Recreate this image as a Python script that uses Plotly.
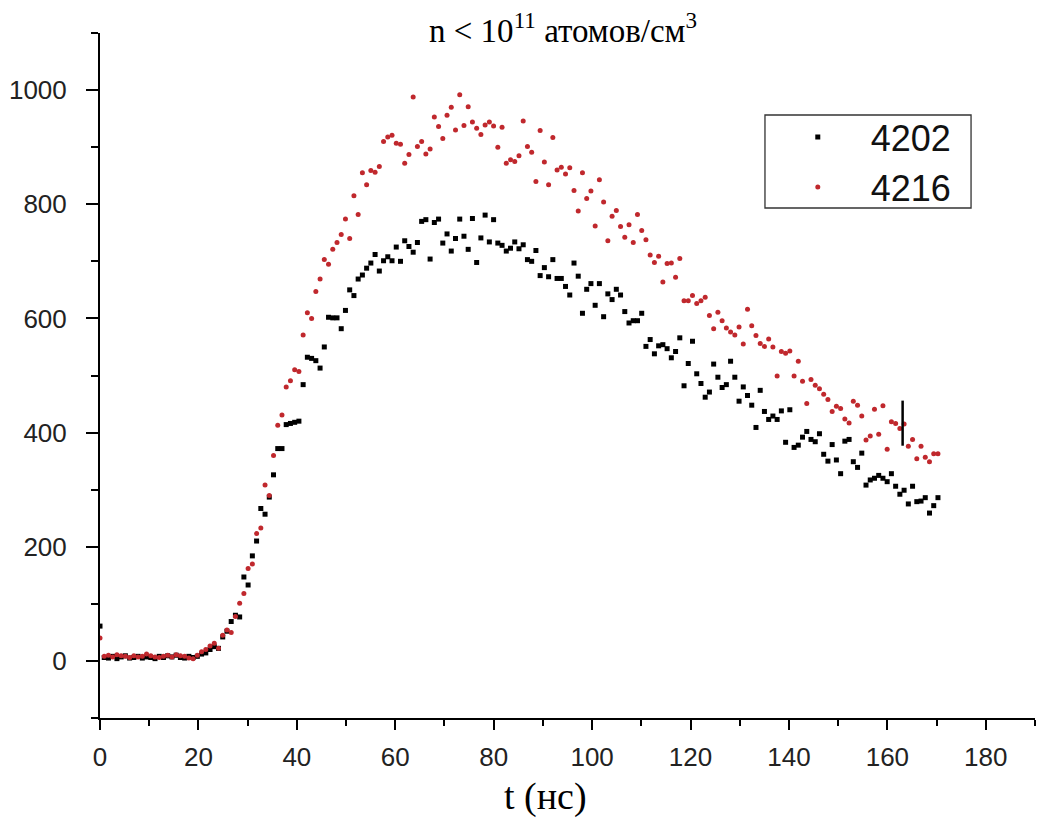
import plotly.graph_objects as go

# Sampling grid (ns) - shared time base of both records
time_ns = [0.0, 0.86, 1.72, 2.58, 3.44, 4.3, 5.16, 6.02, 6.88, 7.74, 8.6, 9.46, 10.32, 11.18, 12.04,
           12.9, 13.76, 14.62, 15.48, 16.34, 17.2, 18.06, 18.92, 19.78, 20.64, 21.5, 22.36, 23.22,
           24.08, 24.94, 25.8, 26.66, 27.52, 28.38, 29.24, 30.1, 30.96, 31.82, 32.68, 33.54, 34.4,
           35.26, 36.12, 36.98, 37.84, 38.7, 39.56, 40.42, 41.28, 42.14, 43.0, 43.86, 44.72, 45.58,
           46.44, 47.3, 48.16, 49.02, 49.88, 50.74, 51.6, 52.46, 53.32, 54.18, 55.04, 55.9, 56.76,
           57.62, 58.48, 59.34, 60.2, 61.06, 61.92, 62.78, 63.64, 64.5, 65.36, 66.22, 67.08, 67.94,
           68.8, 69.66, 70.52, 71.38, 72.24, 73.1, 73.96, 74.82, 75.68, 76.54, 77.4, 78.26, 79.12,
           79.98, 80.84, 81.7, 82.56, 83.42, 84.28, 85.14, 86.0, 86.86, 87.72, 88.58, 89.44, 90.3,
           91.16, 92.02, 92.88, 93.74, 94.6, 95.46, 96.32, 97.18, 98.04, 98.9, 99.76, 100.62, 101.48,
           102.34, 103.2, 104.06, 104.92, 105.78, 106.64, 107.5, 108.36, 109.22, 110.08, 110.94,
           111.8, 112.66, 113.52, 114.38, 115.24, 116.1, 116.96, 117.82, 118.68, 119.54, 120.4,
           121.26, 122.12, 122.98, 123.84, 124.7, 125.56, 126.42, 127.28, 128.14, 129.0, 129.86,
           130.72, 131.58, 132.44, 133.3, 134.16, 135.02, 135.88, 136.74, 137.6, 138.46, 139.32,
           140.18, 141.04, 141.9, 142.76, 143.62, 144.48, 145.34, 146.2, 147.06, 147.92, 148.78,
           149.64, 150.5, 151.36, 152.22, 153.08, 153.94, 154.8, 155.66, 156.52, 157.38, 158.24,
           159.1, 159.96, 160.82, 161.68, 162.54, 163.4, 164.26, 165.12, 165.98, 166.84, 167.7,
           168.56, 169.42, 170.28]

# Series 4202 (black squares)
s4202 = [61, 6, 5, 8, 4, 7, 9, 5, 6, 8, 5, 7, 6, 4, 8, 6, 9, 7, 10, 6, 5, 8, 6,
         8, 12, 14, 20, 25, 22, 42, 52, 69, 80, 77, 147, 133, 184, 210, 267, 257, 287,
         326, 372, 372, 414, 416, 418, 420, 484, 532, 530, 526, 513, 550, 602, 601, 601,
         582, 614, 650, 640, 669, 676, 688, 697, 712, 683, 701, 708, 701, 725, 700, 736,
         726, 716, 733, 770, 773, 704, 768, 774, 732, 748, 718, 740, 774, 744, 721, 775,
         698, 741, 781, 734, 773, 732, 728, 718, 723, 734, 722, 729, 703, 700, 719, 675,
         689, 673, 703, 670, 670, 656, 641, 697, 674, 609, 651, 661, 623, 661, 603, 643,
         633, 651, 641, 612, 592, 596, 596, 609, 551, 563, 538, 552, 554, 547, 531, 542,
         566, 482, 521, 560, 503, 486, 462, 471, 520, 497, 479, 484, 525, 497, 455, 480,
         465, 448, 409, 474, 437, 423, 429, 423, 438, 383, 440, 374, 378, 392, 402, 388,
         384, 398, 362, 350, 379, 352, 328, 385, 388, 349, 339, 364, 308, 317, 320, 325,
         320, 314, 328, 306, 292, 299, 275, 306, 279, 280, 286, 259, 272, 286]

# Series 4216 (red circles)
s4216 = [40, 8, 10, 7, 11, 9, 8, 6, 9, 7, 8, 12, 9, 7, 6, 8, 10, 7, 11, 9, 8, 5, 4,
         10, 16, 20, 26, 31, 22, 45, 54, 50, 78, 101, 118, 162, 170, 223, 233, 308, 290,
         360, 413, 431, 480, 491, 510, 507, 571, 610, 600, 647, 669, 703, 695, 721, 733,
         747, 774, 740, 815, 782, 855, 834, 859, 856, 866, 910, 918, 921, 907, 905, 872,
         887, 988, 901, 910, 888, 897, 953, 936, 915, 956, 970, 930, 992, 938, 971, 944,
         933, 922, 939, 944, 937, 900, 935, 872, 878, 875, 885, 946, 901, 891, 840, 929,
         874, 834, 917, 860, 865, 853, 864, 824, 788, 855, 810, 823, 762, 843, 804, 736,
         779, 789, 761, 742, 764, 733, 782, 754, 738, 711, 698, 709, 664, 696, 697, 672,
         705, 631, 631, 640, 626, 631, 637, 605, 582, 611, 596, 583, 576, 571, 585, 555,
         616, 587, 570, 556, 551, 564, 550, 499, 542, 539, 543, 499, 525, 490, 451, 493,
         483, 477, 467, 458, 437, 446, 442, 424, 417, 455, 448, 429, 387, 394, 441, 397,
         447, 371, 419, 416, 407, 415, 376, 388, 354, 376, 357, 349, 363, 363]

# Vertical error-bar-like mark near the end
bar_t = [163.1, 163.1]
bar_y = [377, 456]

series_names = ["4202", "4216"]
x_ticks = [0, 20, 40, 60, 80, 100, 120, 140, 160, 180]
y_ticks = [0, 200, 400, 600, 800, 1000]

RED = "#c0282d"
SERIF = "Liberation Serif, Times New Roman, serif"
SANS = "Liberation Sans, Arial, sans-serif"

fig = go.Figure()
fig.add_trace(go.Scatter(x=time_ns, y=s4202, mode="markers", name=series_names[0],
                         legendgroup="a",
                         marker=dict(symbol="square", size=5, color="black")))
fig.add_trace(go.Scatter(x=time_ns, y=s4216, mode="markers", name=series_names[1],
                         legendgroup="b",
                         marker=dict(symbol="circle", size=5, color=RED)))
fig.add_trace(go.Scatter(x=bar_t, y=bar_y, mode="lines", showlegend=False,
                         line=dict(color="black", width=2.5), hoverinfo="skip"))

axis_common = dict(showgrid=False, zeroline=False, showline=True, linecolor="black",
                   linewidth=2, ticks="outside", tickcolor="black", tickwidth=2,
                   automargin=False,
                   tickfont=dict(family=SANS, size=26, color="#222"))

fig.update_xaxes(range=[0, 190], tickvals=x_ticks, ticklen=10,
                 minor=dict(dtick=10, tick0=0, ticks="outside", ticklen=6, tickwidth=2,
                            tickcolor="black"),
                 ticklabelstandoff=5,
                 **axis_common)
fig.update_yaxes(range=[-100, 1100], tickvals=y_ticks, ticklen=12,
                 minor=dict(dtick=100, tick0=0, ticks="outside", ticklen=7, tickwidth=2,
                            tickcolor="black"),
                 ticklabelstandoff=14,
                 **axis_common)

fig.add_annotation(text="n &lt; 10<sup>11</sup> атомов/см<sup>3</sup>", xref="paper", yref="paper",
                   x=0.495, y=1.008, xanchor="center", yanchor="middle", showarrow=False,
                   font=dict(family=SERIF, size=33, color="black"))
fig.add_annotation(text="t (нс)", xref="paper", yref="paper",
                   x=0.476, y=-0.115, xanchor="center", yanchor="middle", showarrow=False,
                   font=dict(family=SERIF, size=38, color="black"))

# Legend frame
fig.add_shape(type="rect", xref="paper", yref="paper",
              x0=0.7112, x1=0.9316, y0=0.7445, y1=0.8803,
              line=dict(color="#333", width=1.3), fillcolor="rgba(0,0,0,0)", layer="above")

fig.update_layout(
    width=1037, height=818,
    margin=dict(l=100, r=2, t=33, b=100, autoexpand=False),
    paper_bgcolor="white", plot_bgcolor="white",
    showlegend=True,
    legend=dict(x=0.711, y=0.8917, xanchor="left", yanchor="top",
                borderwidth=0, bgcolor="rgba(0,0,0,0)",
                font=dict(family=SANS, size=36, color="#111"),
                itemwidth=96, tracegroupgap=0),
)

fig.write_html("out.html", config={"displayModeBar": False},
               post_script="document.body.style.margin='0px';")
